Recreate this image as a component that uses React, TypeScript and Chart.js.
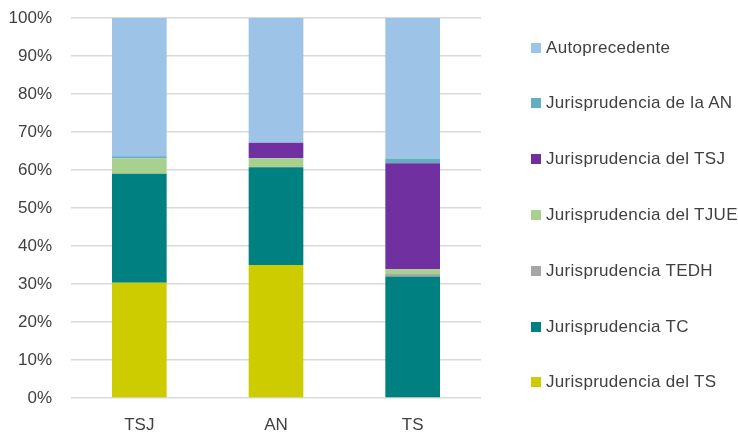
import React, { useEffect, useRef } from "react";
import { Chart, registerables } from "chart.js";

Chart.register(...registerables);

const categories = ["TSJ", "AN", "TS"];

const jurisprudenciaTS = [30.3, 35.0, 0];
const jurisprudenciaTC = [28.7, 25.7, 32.0];
const jurisprudenciaTEDH = [0, 0, 0.6];
const jurisprudenciaTJUE = [4.0, 2.4, 1.3];
const jurisprudenciaTSJ = [0, 4.1, 27.9];
const jurisprudenciaAN = [0.6, 0, 1.2];
const autoprecedente = [36.4, 32.8, 37.0];

const yTickValues = [0, 10, 20, 30, 40, 50, 60, 70, 80, 90, 100];

const FONT = "'Liberation Sans', Arial, sans-serif";
const TEXT = "#404040";

const series = [
  { label: "Jurisprudencia del TS", data: jurisprudenciaTS, color: "#cccc00" },
  { label: "Jurisprudencia TC", data: jurisprudenciaTC, color: "#008080" },
  { label: "Jurisprudencia TEDH", data: jurisprudenciaTEDH, color: "#a6a6a6" },
  { label: "Jurisprudencia del TJUE", data: jurisprudenciaTJUE, color: "#a9d18e" },
  { label: "Jurisprudencia del TSJ", data: jurisprudenciaTSJ, color: "#7030a0" },
  { label: "Jurisprudencia de la AN", data: jurisprudenciaAN, color: "#65adc2" },
  { label: "Autoprecedente", data: autoprecedente, color: "#9dc3e6" },
];

export default function App() {
  const ref = useRef<HTMLCanvasElement | null>(null);

  useEffect(() => {
    if (!ref.current) return;
    const chart = new Chart(ref.current, {
      type: "bar",
      data: {
        labels: categories,
        datasets: series.map((s) => ({
          label: s.label,
          data: s.data,
          backgroundColor: s.color,
          borderWidth: 0,
          categoryPercentage: 1,
          barPercentage: 0.4,
        })),
      },
      options: {
        responsive: false,
        animation: false,
        layout: { padding: { top: 18, right: 257, left: 0, bottom: 0 } },
        plugins: { legend: { display: false }, tooltip: { enabled: false } },
        scales: {
          x: {
            stacked: true,
            grid: { display: false },
            border: { display: false },
            ticks: { color: TEXT, font: { family: FONT, size: 17 }, padding: 9 },
            afterFit: (scale: any) => {
              scale.height = 37;
            },
          },
          y: {
            stacked: true,
            min: 0,
            max: 100,
            afterBuildTicks: (scale: any) => {
              scale.ticks = yTickValues.map((v) => ({ value: v }));
            },
            grid: { color: "#d9d9d9", lineWidth: 1.5, drawTicks: false },
            border: { display: false },
            ticks: {
              color: TEXT,
              font: { family: FONT, size: 17 },
              padding: 19,
              callback: (v: any) => v + "%",
            },
            afterFit: (scale: any) => {
              scale.width = 71;
              scale.paddingTop = 0;
              scale.paddingBottom = 0;
            },
          },
        },
      },
    });
    return () => chart.destroy();
  }, []);

  const legendItems = [...series].reverse();

  return (
    <div style={{ position: "fixed", left: 0, top: 0, width: 738, height: 435, background: "#fff" }}>
      <canvas ref={ref} width={738} height={435} style={{ position: "absolute", left: 0, top: 0 }} />
      {legendItems.map((s, i) => (
        <div
          key={s.label}
          style={{
            position: "absolute",
            left: 531,
            top: 47 + i * 55.8 - 11.5,
            height: 24,
            display: "flex",
            alignItems: "center",
            fontFamily: FONT,
            fontSize: 17,
            letterSpacing: 0.3,
            color: TEXT,
            whiteSpace: "nowrap",
          }}
        >
          <span style={{ display: "inline-block", width: 10, height: 10, background: s.color, marginRight: 5 }} />
          <span>{s.label}</span>
        </div>
      ))}
    </div>
  );
}
